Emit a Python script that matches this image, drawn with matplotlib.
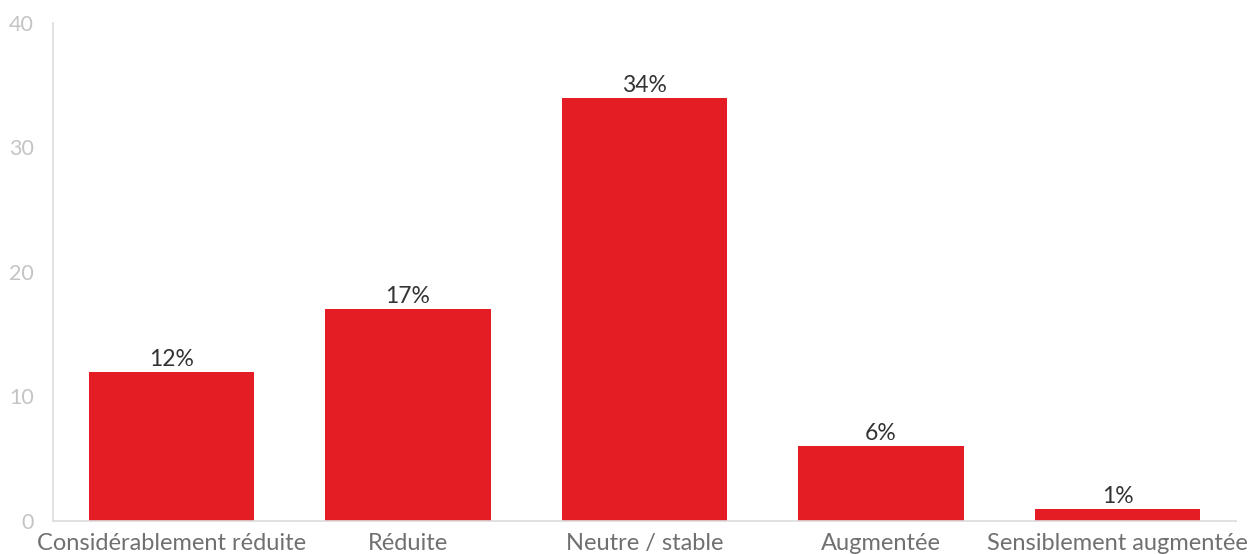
import matplotlib.pyplot as plt

# Survey answers and share of respondents (%)
categories = ["Considérablement réduite", "Réduite", "Neutre / stable",
              "Augmentée", "Sensiblement augmentée"]
values = [12, 17, 34, 6, 1]
yticks = [0, 10, 20, 30, 40]

plt.rcParams['font.family'] = ['Lato', 'DejaVu Sans']

fig = plt.figure(figsize=(12.54, 5.54), dpi=100)
ax = fig.add_axes([0.0423, 0.0596, 0.9433, 0.899])

x = range(len(categories))
bars = ax.bar(x, values, width=0.70, color="#e41c23", zorder=2)

for xi, v in zip(x, values):
    ax.text(xi, v + 0.15, f"{v}%", ha="center", va="bottom",
            fontsize=16.5, color="#333333")

ax.set_xlim(-0.5, 4.5)
ax.set_ylim(0, 40)
ax.set_yticks(yticks)
ax.set_xticks(list(x))
ax.set_xticklabels(categories)
ax.tick_params(axis="y", length=0, labelsize=15.5, labelcolor="#c4c4c4", pad=14)
ax.tick_params(axis="x", length=0, labelsize=17, labelcolor="#707070", pad=9)

for side in ["top", "right"]:
    ax.spines[side].set_visible(False)
for side in ["left", "bottom"]:
    ax.spines[side].set_color("#dcdcdc")
    ax.spines[side].set_linewidth(1.2)

fig.savefig("out.png", dpi=100)
